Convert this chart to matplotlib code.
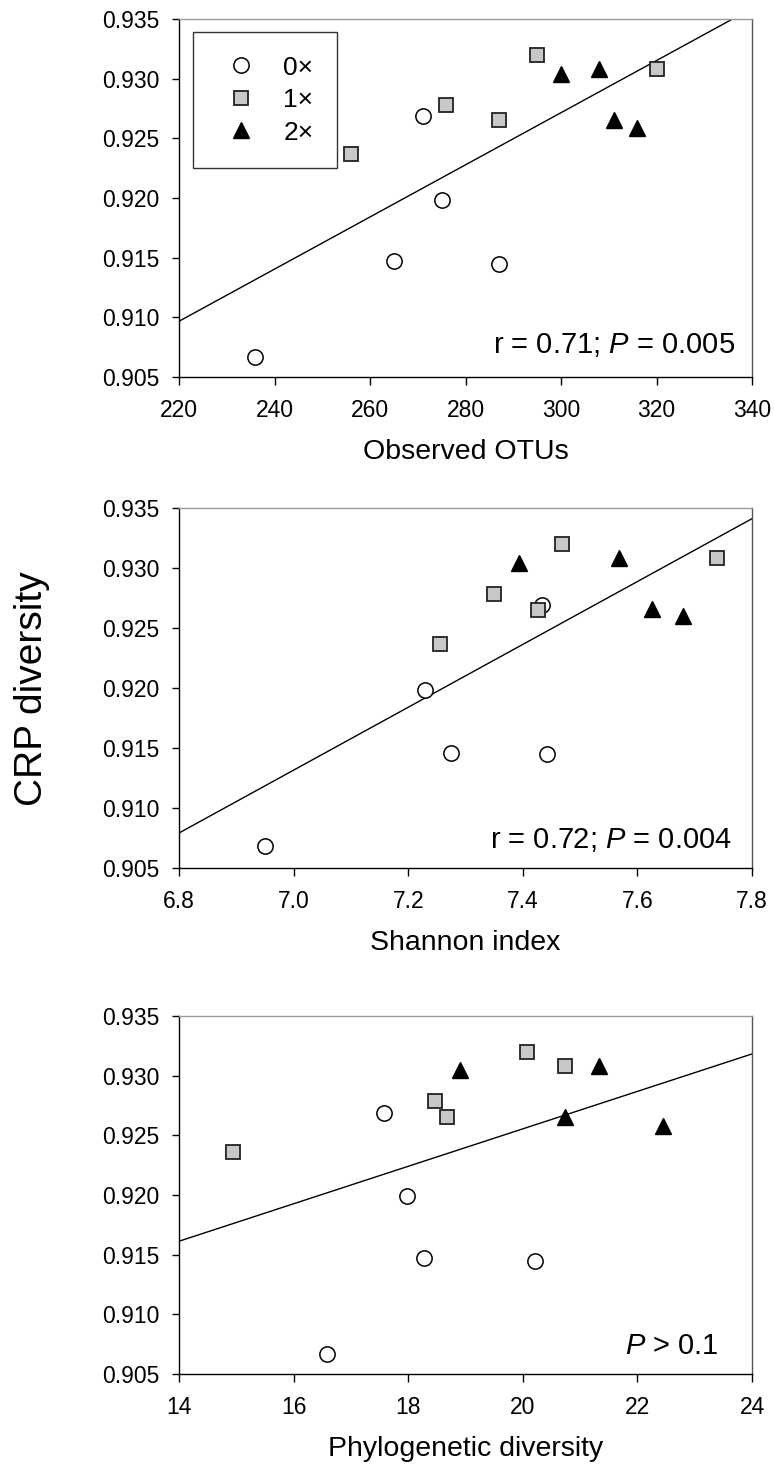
import numpy as np
import matplotlib
matplotlib.use("Agg")
import matplotlib.pyplot as plt
from matplotlib.lines import Line2D

plt.rcParams["font.family"] = ["Liberation Sans", "DejaVu Sans"]
plt.rcParams["mathtext.fontset"] = "custom"
plt.rcParams["mathtext.rm"] = "Liberation Sans"
plt.rcParams["mathtext.it"] = "Liberation Sans:italic"

# CRP diversity (y) for each group
crp_0x = [0.9067, 0.9147, 0.9269, 0.9198, 0.9145]
crp_1x = [0.9237, 0.9278, 0.9265, 0.9320, 0.9308]
crp_2x = [0.9304, 0.9308, 0.9265, 0.9259]

# Observed OTUs
otu_0x = [236, 265, 271, 275, 287]
otu_1x = [256, 276, 287, 295, 320]
otu_2x = [300, 308, 311, 316]

# Shannon index
sha_0x = [6.95, 7.275, 7.433, 7.23, 7.443]
sha_1x = [7.256, 7.35, 7.427, 7.469, 7.739]
sha_2x = [7.394, 7.568, 7.626, 7.679]
sha_crp_0x = [0.9068, 0.9146, 0.9269, 0.9198, 0.9145]
sha_crp_2x = [0.9304, 0.9308, 0.9266, 0.9260]

# Phylogenetic diversity
pd_0x = [16.58, 17.58, 17.97, 18.27, 20.22]
pd_crp_0x = [0.9067, 0.9269, 0.9199, 0.9147, 0.9145]
pd_1x = [14.94, 18.47, 18.67, 20.07, 20.74]
pd_crp_1x = [0.9236, 0.9279, 0.9265, 0.9320, 0.9308]
pd_2x = [18.90, 21.33, 20.73, 22.44]
pd_crp_2x = [0.9305, 0.9308, 0.9265, 0.9258]

group_labels = ["0\u00d7", "1\u00d7", "2\u00d7"]
yticks = [0.905, 0.910, 0.915, 0.920, 0.925, 0.930, 0.935]

panels = [
    dict(xs=[otu_0x, otu_1x, otu_2x], ys=[crp_0x, crp_1x, crp_2x],
         xlim=(220, 340), xticks=[220, 240, 260, 280, 300, 320, 340],
         xfmt="{:.0f}", xlabel="Observed OTUs",
         note="r = 0.71; $P$ = 0.005", note_pos=(0.971, 0.066)),
    dict(xs=[sha_0x, sha_1x, sha_2x], ys=[sha_crp_0x, crp_1x, sha_crp_2x],
         xlim=(6.8, 7.8), xticks=[6.8, 7.0, 7.2, 7.4, 7.6, 7.8],
         xfmt="{:.1f}", xlabel="Shannon index",
         note="r = 0.72; $P$ = 0.004", note_pos=(0.965, 0.056)),
    dict(xs=[pd_0x, pd_1x, pd_2x], ys=[pd_crp_0x, pd_crp_1x, pd_crp_2x],
         xlim=(14, 24), xticks=[14, 16, 18, 20, 22, 24],
         xfmt="{:.0f}", xlabel="Phylogenetic diversity",
         note="$P$ > 0.1", note_pos=(0.941, 0.056)),
]

styles = [
    dict(marker="o", ms=11, mfc="white", mec="black", mew=1.1),
    dict(marker="s", ms=10, mfc="#c8c8c8", mec="#222222", mew=1.3),
    dict(marker="^", ms=11.5, mfc="black", mec="black", mew=1.0),
]

fig = plt.figure(figsize=(7.74, 14.8), dpi=100)
axes_rects = [
    [0.2313, 0.7453, 0.7403, 0.2419],
    [0.2313, 0.4135, 0.7403, 0.2432],
    [0.2313, 0.0716, 0.7403, 0.2419],
]

for i, (rect, p) in enumerate(zip(axes_rects, panels)):
    ax = fig.add_axes(rect)

    # regression line fitted on all points
    allx = np.concatenate([np.array(v, float) for v in p["xs"]])
    ally = np.concatenate([np.array(v, float) for v in p["ys"]])
    slope, icpt = np.polyfit(allx, ally, 1)
    lx = np.array(p["xlim"], float)
    ax.plot(lx, icpt + slope * lx, color="black", lw=1.0, zorder=2)

    for xv, yv, st, lab in zip(p["xs"], p["ys"], styles, group_labels):
        ax.plot(xv, yv, linestyle="none", zorder=3, label=lab, **st)

    ax.set_xlim(*p["xlim"])
    ax.set_ylim(0.905, 0.935)
    ax.set_xticks(p["xticks"])
    ax.set_xticklabels([p["xfmt"].format(v) for v in p["xticks"]])
    ax.set_yticks(yticks)
    ax.set_yticklabels(["{:.3f}".format(v) for v in yticks])
    ax.tick_params(axis="x", direction="out", length=6, width=1.0, pad=10, labelsize=16.5)
    ax.tick_params(axis="y", direction="out", length=5, width=1.0, pad=9, labelsize=16.5)
    ax.tick_params(top=False, right=False)

    ax.spines["left"].set_color("black")
    ax.spines["bottom"].set_color("black")
    ax.spines["top"].set_color("#9a9a9a")
    ax.spines["right"].set_color("#555555")
    for s in ax.spines.values():
        s.set_linewidth(1.0)

    ax.set_xlabel(p["xlabel"], fontsize=20.5, labelpad=12)
    ax.text(p["note_pos"][0], p["note_pos"][1], p["note"], transform=ax.transAxes,
            ha="right", va="baseline", fontsize=21)

    if i == 0:
        handles = [Line2D([], [], linestyle="none", **st) for st in styles]
        leg = ax.legend(handles, group_labels, loc="upper left",
                        bbox_to_anchor=(0.0244, 0.9637), fontsize=19,
                        frameon=True, fancybox=False, edgecolor="black",
                        borderpad=0.9, labelspacing=0.32, handletextpad=0.66,
                        handlelength=1.86, borderaxespad=0)
        leg.get_frame().set_linewidth(1.0)

fig.text(0.041, 0.535, "CRP diversity", rotation=90, ha="center", va="center",
         fontsize=28)

fig.savefig("out.png", dpi=100)
